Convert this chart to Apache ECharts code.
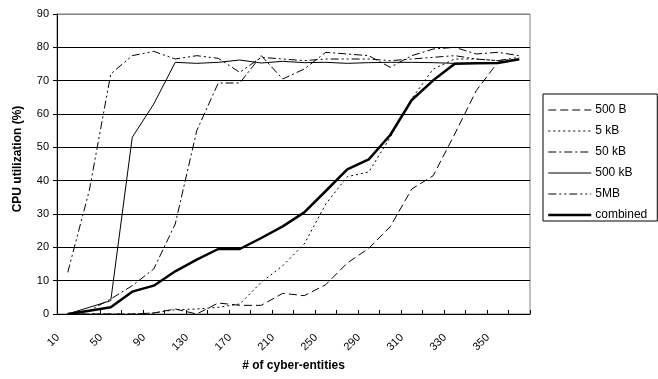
<!DOCTYPE html>
<html><head><meta charset="utf-8">
<script src="https://cdn.jsdelivr.net/npm/echarts@6/dist/echarts.min.js"></script>
<style>html,body{margin:0;padding:0;background:#fff}#c{width:658px;height:379px}</style>
</head><body><div id="c"></div><script>
// x categories (# of cyber-entities)
const categories = [10,30,50,70,90,110,130,150,170,190,210,230,250,270,290,300,310,320,330,340,350,360];
// CPU utilization (%) per series
const s500B  = [0,0,0,0,0.3,1.5,0,3.3,2.6,2.6,6.2,5.5,8.8,15.3,19.7,26.2,37.5,41.5,54,67,75.5,76.4];
const s5kB   = [0,0,0,0,0.3,1.3,1.5,2,3,9.5,14.5,21,33,41.2,42.6,53,64.6,73.5,76.5,76.5,76,76.5];
const s50kB  = [0,1,4.5,8.5,13.5,27,55,69.3,69.3,77.5,70.5,73.5,78.5,78,77.5,74,77.5,79.5,80,78,78.5,77.5];
const s500kB = [0,2,4,53,63,75.5,75.2,75.5,76.2,75.3,75.8,75.4,75.5,75.2,75.4,75.5,75.5,75.4,75.2,75.2,75.4,76.4];
const s5MB   = [12.5,37,72,77.5,78.8,76.5,77.5,76.7,72.5,77,76.5,76,76.5,76.5,76.5,76,76.5,77,77.5,76.5,76,77];
const sComb  = [0,1,2,6.7,8.5,12.8,16.3,19.5,19.5,22.8,26.3,30.5,36.9,43.4,46.4,53.7,64.2,70.1,75.1,75.2,75.3,76.4];
const seriesNames = ['500 B','5 kB','50 kB','500 kB','5MB','combined'];
const yTicks = {min:0, max:90, interval:10};

const font = '"Liberation Sans", Arial, sans-serif';
function mk(name, data, dash, width, z) {
  return {name:name, type:'line', data:data, symbol:'none', showSymbol:false, z:z,
    lineStyle:{color:'#000', width:width, type:dash}, itemStyle:{color:'#000'}};
}
const chart = echarts.init(document.getElementById('c'), null, {renderer:'canvas'});
const splitColors = ['#000','#000','#000','#000','#000','#000','#000','#000','#000','#808080'];
chart.setOption({
  animation:false,
  grid:{left:57, right:128, top:14, bottom:65, show:true, borderColor:'#808080', borderWidth:1, backgroundColor:'#fff'},
  legend:{orient:'vertical', left:543, top:94, padding:[10,10,0,4], itemGap:9, itemWidth:43, itemHeight:14,
    borderColor:'#000', borderWidth:1, borderRadius:0, backgroundColor:'#fff',
    lineStyle:{width:'inherit', type:'inherit', color:'inherit'},
    itemStyle:{color:'rgba(0,0,0,0)', borderColor:'rgba(0,0,0,0)', borderWidth:0, opacity:0},
    textStyle:{fontFamily:font, fontSize:12, color:'#000', padding:[0,0,0,-1]}, data:seriesNames},
  xAxis:{type:'category', data:categories, boundaryGap:true,
    axisLine:{lineStyle:{color:'#000', width:1}},
    axisTick:{show:true, inside:true, length:4, interval:0, alignWithLabel:false, lineStyle:{color:'#000'}},
    axisLabel:{interval:1, rotate:45, margin:12, padding:[0,14,0,0], fontFamily:font, fontSize:11, color:'#000'},
    splitLine:{show:false},
    name:'# of cyber-entities', nameLocation:'middle', nameGap:46,
    nameTextStyle:{fontFamily:font, fontSize:12, fontWeight:'bold', color:'#000'}},
  yAxis:{type:'value', min:yTicks.min, max:yTicks.max, interval:yTicks.interval,
    axisLine:{show:true, lineStyle:{color:'#000', width:1}},
    axisTick:{show:true, length:4, lineStyle:{color:'#000'}},
    axisLabel:{margin:8, fontFamily:font, fontSize:11, color:'#000'},
    splitLine:{show:true, lineStyle:{color:splitColors, width:1}},
    name:'CPU utilization (%)', nameLocation:'middle', nameGap:33,
    nameTextStyle:{fontFamily:font, fontSize:12, fontWeight:'bold', color:'#000', padding:[0,0,0,10]}},
  series:[
    mk('500 B', s500B, [8,4], 1, 2),
    mk('5 kB', s5kB, [2,3], 1, 2),
    mk('50 kB', s50kB, [8,3,2,3], 1, 2),
    mk('500 kB', s500kB, 'solid', 1, 2),
    mk('5MB', s5MB, [8,3,2,3,2,3], 1, 2),
    mk('combined', sComb, 'solid', 2.5, 3)
  ]
});
</script></body></html>
